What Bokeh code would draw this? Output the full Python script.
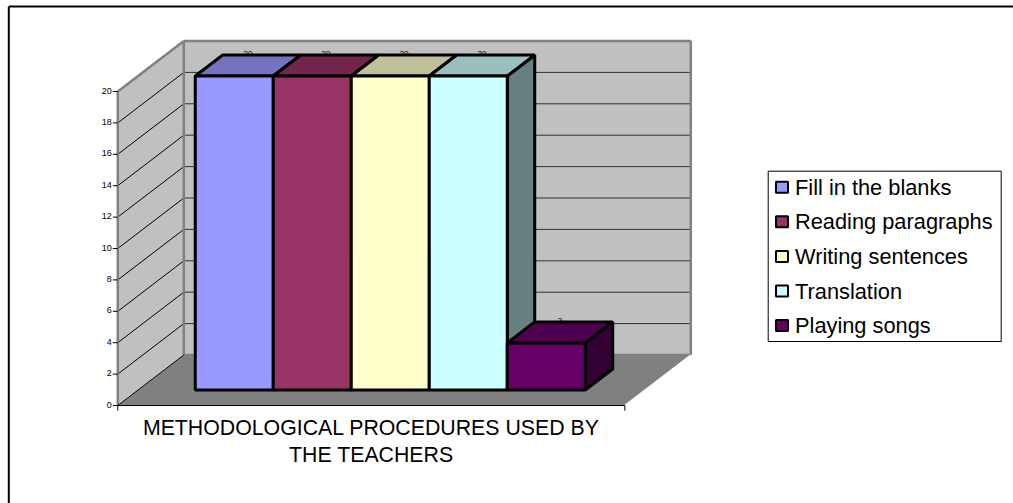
from bokeh.plotting import figure
from bokeh.models import Range1d, Label
from bokeh.embed import file_html
from bokeh.resources import INLINE

categories = ["Fill in the blanks", "Reading paragraphs", "Writing sentences", "Translation", "Playing songs"]
values = [20, 20, 20, 20, 3]
colors = ["#9999FF", "#993366", "#FFFFCC", "#CCFFFF", "#660066"]
top_colors = ["#7373BF", "#73264D", "#BFBF99", "#99BFBF", "#4D004D"]
side_colors = ["#4D4D80", "#4D1A33", "#808066", "#668080", "#330033"]
ticks = list(range(0, 21, 2))
axis_title = ["METHODOLOGICAL PROCEDURES USED BY", "THE TEACHERS"]

W, H = 1013, 503
PX_X, PX_Y = 78.0, 15.7  # pixels per bar width / per value unit
X0, Y0 = 117.3, 405  # figure pixel of the axis origin
DX, DY = 66 / PX_X, 50.5 / PX_Y  # full depth of the floor in data units
GAP = 57.2 / 78
BAR_Z0, BAR_Z1 = 0.307, 0.723
FLOOR_W = 507 / 78


def pj(x, y, z=0.0):
    return x + DX * z, y + DY * z


def px(x):
    return (x - X0) / PX_X


def py(y):
    return (Y0 - y) / PX_Y


p = figure(width=W, height=H, output_backend="svg", toolbar_location=None,
           x_range=Range1d(px(0), px(W)), y_range=Range1d(py(H), py(0)),
           min_border=0, x_axis_type=None, y_axis_type=None,
           outline_line_color=None, background_fill_color="white", border_fill_color="white")
p.grid.visible = False


def poly(pts, fill, line="black", lw=1.0):
    p.patch([a[0] for a in pts], [a[1] for a in pts], fill_color=fill, line_color=line, line_width=lw)


def seg(a, b, color="black", lw=1.0):
    p.line([a[0], b[0]], [a[1], b[1]], line_color=color, line_width=lw)


# page frame: only its top and left edges are visible
seg((px(8.3), py(6)), (px(W), py(6)), "#000000", 2)
seg((px(8.3), py(6)), (px(8.3), py(H)), "#000000", 2)

ymax = ticks[-1]
# walls and floor
poly([pj(0, 0), pj(FLOOR_W, 0), pj(FLOOR_W, 0, 1), pj(0, 0, 1)], "#808080", None)
poly([pj(0, 0), pj(0, ymax), pj(0, ymax, 1), pj(0, 0, 1)], "#C0C0C0", None)
poly([pj(0, 0, 1), pj(0, ymax, 1), pj(FLOOR_W, ymax, 1), pj(FLOOR_W, 0, 1)], "#C0C0C0", None)

# gridlines
for t in ticks[1:-1]:
    seg(pj(0, t), pj(0, t, 1), "#000000", 1)
    seg(pj(0, t, 1), pj(FLOOR_W, t, 1), "#303030", 1)

# wall edges
for a, b in [(pj(0, 0), pj(0, ymax)), (pj(0, ymax), pj(0, ymax, 1)), (pj(0, ymax, 1), pj(FLOOR_W, ymax, 1)),
             (pj(0, 0, 1), pj(0, ymax, 1)), (pj(FLOOR_W, 0, 1), pj(FLOOR_W, ymax, 1)),
             (pj(0, 0, 1), pj(FLOOR_W, 0, 1))]:
    seg(a, b, "#808080", 2.5)
seg(pj(0, 0), pj(0, 0, 1), "#000000", 1)
seg(pj(FLOOR_W, 0), pj(FLOOR_W, 0, 1), "#FFFFFF", 1.5)
seg((0, -1.5 / PX_Y), (FLOOR_W, -1.5 / PX_Y), "#FFFFFF", 1)
seg(pj(0, 0), pj(FLOOR_W, 0), "#000000", 1)

# axis ticks and labels
tick_dx = 5 / PX_X
for t in ticks:
    seg((-tick_dx, t), (0, t), "#000000", 1)
    p.add_layout(Label(x=-tick_dx, y=t, text=str(t), text_font="Liberation Sans", text_font_size="9px",
                       text_align="right", text_baseline="middle", text_color="#000000", x_offset=-1, y_offset=1))
seg((0, 0), (0, -5 / PX_Y), "#000000", 1)
seg((FLOOR_W, 0), (FLOOR_W, -5 / PX_Y), "#000000", 1)

# bars
for i, (v, c, tc, sc) in enumerate(zip(values, colors, top_colors, side_colors)):
    x0, x1 = GAP + i, GAP + i + 1
    poly([pj(x1, 0, BAR_Z0), pj(x1, v, BAR_Z0), pj(x1, v, BAR_Z1), pj(x1, 0, BAR_Z1)], sc, "black", 3)
    poly([pj(x0, v, BAR_Z0), pj(x1, v, BAR_Z0), pj(x1, v, BAR_Z1), pj(x0, v, BAR_Z1)], tc, "black", 3)
    poly([pj(x0, 0, BAR_Z0), pj(x1, 0, BAR_Z0), pj(x1, v, BAR_Z0), pj(x0, v, BAR_Z0)], c, "black", 3)
    lx = pj((x0 + x1) / 2, v, (BAR_Z0 + BAR_Z1) / 2)[0]
    ly = pj((x0 + x1) / 2, v, BAR_Z1)[1]
    p.add_layout(Label(x=lx, y=ly, text=str(v), text_font="Liberation Sans", text_font_size="8px",
                       text_align="center", text_baseline="middle", text_color="#000000", y_offset=1))

# category title
for i, line in enumerate(axis_title):
    p.add_layout(Label(x=FLOOR_W / 2, y=py(427.5 + i * 27), text=line,
                       text_font="Liberation Sans", text_font_size="21.3px", text_align="center",
                       text_baseline="middle", text_color="#000000"))

# legend
lx0, lx1, ly0, ly1 = px(767.7), px(1000.7), py(341), py(170.7)
p.patch([lx0, lx1, lx1, lx0], [ly0, ly0, ly1, ly1], fill_color="white", line_color="black", line_width=1)
for i, (name, c) in enumerate(zip(categories, colors)):
    yc = 186.7 + i * 34.6
    sx0, sx1 = px(775.5), px(787.5)
    sy0, sy1 = py(yc + 5.5), py(yc - 5.5)
    p.patch([sx0, sx1, sx1, sx0], [sy0, sy0, sy1, sy1], fill_color=c, line_color="black", line_width=2)
    p.add_layout(Label(x=px(794.5), y=py(yc), text=name, text_font="Liberation Sans", text_font_size="21.8px",
                       text_align="left", text_baseline="middle", text_color="#000000"))

open("out.html", "w").write(file_html(p, INLINE))
